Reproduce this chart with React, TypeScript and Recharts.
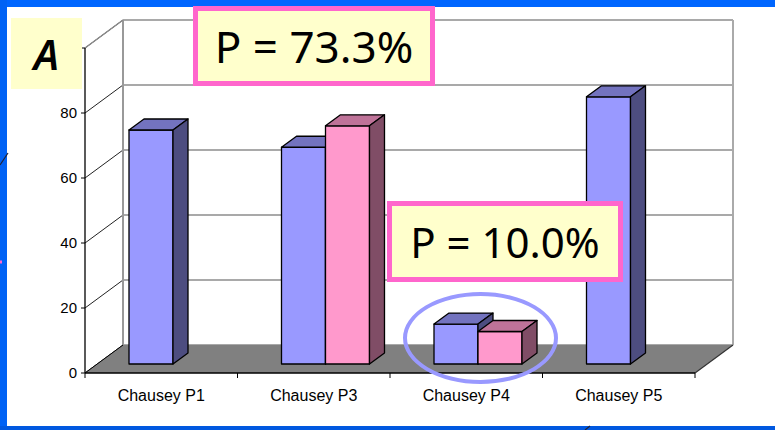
import React from "react";
import { Bar, BarChart, CartesianGrid, ReferenceArea, XAxis, YAxis } from "recharts";

const categories = ["Chausey P1", "Chausey P3", "Chausey P4", "Chausey P5"];
const blueValues = [72, 66.7, 12.3, 82.2];
const pinkValues: (number | null)[] = [null, 73.3, 10.0, null];
const yTicks = [0, 20, 40, 60, 80, 100];

const data = categories.map((name, i) => ({ name, blue: blueValues[i], pink: pinkValues[i] }));

// 3D offsets (front plane -> back wall, and bar placement/depth)
const WALL_DX = 38;
const WALL_DY = -28;
const BAR_DX = 12;
const BAR_DY = -9;
const DEPTH_X = 15;
const DEPTH_Y = -11;

function makeBar3D(front: string, top: string, side: string) {
  return (props: any) => {
    const { x, y, width, height } = props;
    if (height == null || height <= 0 || width == null) return <g />;
    const fx = x + BAR_DX;
    const fy = y + BAR_DY;
    const r = fx + width;
    const b = fy + height;
    return (
      <g stroke="#000" strokeWidth={1.3} strokeLinejoin="round">
        <rect x={fx} y={fy} width={width} height={height} fill={front} />
        <polygon
          points={`${fx},${fy} ${fx + DEPTH_X},${fy + DEPTH_Y} ${r + DEPTH_X},${fy + DEPTH_Y} ${r},${fy}`}
          fill={top}
        />
        <polygon
          points={`${r},${fy} ${r + DEPTH_X},${fy + DEPTH_Y} ${r + DEPTH_X},${b + DEPTH_Y} ${r},${b}`}
          fill={side}
        />
      </g>
    );
  };
}

const BlueBar = makeBar3D("#9999FF", "#7373BF", "#4D4D80");
const PinkBar = makeBar3D("#FF99CC", "#BF7399", "#804D66");

function Walls(props: any) {
  const { x, y, width, height } = props;
  const bottom = y + height;
  const n = categories.length;
  const step = width / n;
  return (
    <g>
      <polygon
        points={`${x},${bottom} ${x + WALL_DX},${bottom + WALL_DY} ${x + width + WALL_DX},${bottom + WALL_DY} ${x + width},${bottom}`}
        fill="#808080"
      />
      <line x1={x + WALL_DX} y1={y + WALL_DY} x2={x + WALL_DX} y2={bottom + WALL_DY} stroke="#999" strokeWidth={2} />
      <line
        x1={x + width + WALL_DX}
        y1={y + WALL_DY}
        x2={x + width + WALL_DX}
        y2={bottom + WALL_DY}
        stroke="#aaa"
        strokeWidth={2}
      />
      {/* top edge of the side wall */}
      <line x1={x} y1={y} x2={x + WALL_DX} y2={y + WALL_DY} stroke="#8c8c8c" strokeWidth={1.5} />
      <line x1={x} y1={bottom} x2={x + WALL_DX} y2={bottom + WALL_DY} stroke="#000" strokeWidth={1} />
      <line x1={x + width} y1={bottom} x2={x + width + WALL_DX} y2={bottom + WALL_DY} stroke="#333" strokeWidth={1.2} />
      {Array.from({ length: n + 1 }, (_, i) => (
        <line key={i} x1={x + i * step} y1={bottom} x2={x + i * step} y2={bottom + 5} stroke="#000" strokeWidth={1} />
      ))}
    </g>
  );
}

function GridLine(props: any) {
  const { x1, y1, x2 } = props;
  return (
    <g key={props.key}>
      <line x1={x1} y1={y1} x2={x1 + WALL_DX} y2={y1 + WALL_DY} stroke="#222" strokeWidth={1} />
      <line x1={x1 + WALL_DX} y1={y1 + WALL_DY} x2={x2 + WALL_DX} y2={y1 + WALL_DY} stroke="#8c8c8c" strokeWidth={1.5} />
    </g>
  );
}

const boxText: React.CSSProperties = {
  position: "absolute",
  boxSizing: "border-box",
  background: "#FFFFCC",
  border: "5px solid #FF66CC",
  display: "flex",
  alignItems: "center",
  justifyContent: "center",
  fontFamily: "'Noto Sans', 'DejaVu Sans', sans-serif",
  color: "#000",
  lineHeight: 1,
};

export default function App() {
  return (
    <div style={{ position: "absolute", left: 0, top: 0, width: 775, height: 430, background: "#fff", overflow: "hidden" }}>
      <div style={{ position: "absolute", left: 0, top: 0, width: 775, height: 7, background: "#0066FF" }} />
      <div style={{ position: "absolute", left: 0, top: 0, width: 7, height: 430, background: "#0062F5" }} />
      <div style={{ position: "absolute", left: 0, top: 426, width: 775, height: 4, background: "#0058E0" }} />
      <div style={{ position: "absolute", left: 0, top: 0 }}>
        <BarChart
          width={775}
          height={430}
          data={data}
          margin={{ top: 48, right: 80, bottom: 27, left: 25 }}
          barSize={44}
          barGap={0}
        >
          <CartesianGrid horizontal={GridLine} vertical={false} />
          <ReferenceArea y1={0} y2={100} ifOverflow="visible" shape={Walls} />
          <XAxis
            dataKey="name"
            height={30}
            axisLine={{ stroke: "#000", strokeWidth: 1.3 }}
            tickLine={false}
            tickSize={5}
            tickMargin={12}
            tick={{ fill: "#000", fontSize: 16, fontFamily: "'Liberation Sans', Arial, sans-serif" }}
          />
          <YAxis
            width={60}
            domain={[0, 100]}
            ticks={yTicks}
            axisLine={{ stroke: "#000", strokeWidth: 1.3 }}
            tickLine={{ stroke: "#000" }}
            tickSize={4}
            tickMargin={4}
            tickFormatter={(v: number) => (v === 100 ? "" : String(v))}
            tick={{ fill: "#000", fontSize: 15, fontFamily: "'Liberation Sans', Arial, sans-serif" }}
          />
          <Bar dataKey="blue" shape={BlueBar} isAnimationActive={false} />
          <Bar dataKey="pink" shape={PinkBar} isAnimationActive={false} />
        </BarChart>
      </div>
      <div
        style={{
          ...boxText,
          border: "none",
          left: 11,
          top: 18,
          width: 71,
          height: 71,
          fontSize: 42,
          fontStyle: "italic",
          fontWeight: 600,
        }}
      >
        A
      </div>
      <div style={{ ...boxText, left: 193, top: 6, width: 242, height: 80, fontSize: 44 }}>P = 73.3%</div>
      <div style={{ ...boxText, left: 387, top: 201, width: 236, height: 81, fontSize: 42 }}>P = 10.0%</div>
      <div
        style={{
          position: "absolute",
          left: 403,
          top: 292,
          width: 155,
          height: 92,
          boxSizing: "border-box",
          border: "4px solid #9999FF",
          borderRadius: "50%",
        }}
      />
      <svg style={{ position: "absolute", left: 0, top: 0 }} width={775} height={430}>
        <line x1={0} y1={165} x2={8} y2={153} stroke="#223" strokeWidth={1.2} />
        <line x1={0} y1={262} x2={2} y2={262} stroke="#FF66CC" strokeWidth={3} />
        <line x1={585} y1={430} x2={590} y2={426} stroke="#223" strokeWidth={1.2} />
      </svg>
    </div>
  );
}
